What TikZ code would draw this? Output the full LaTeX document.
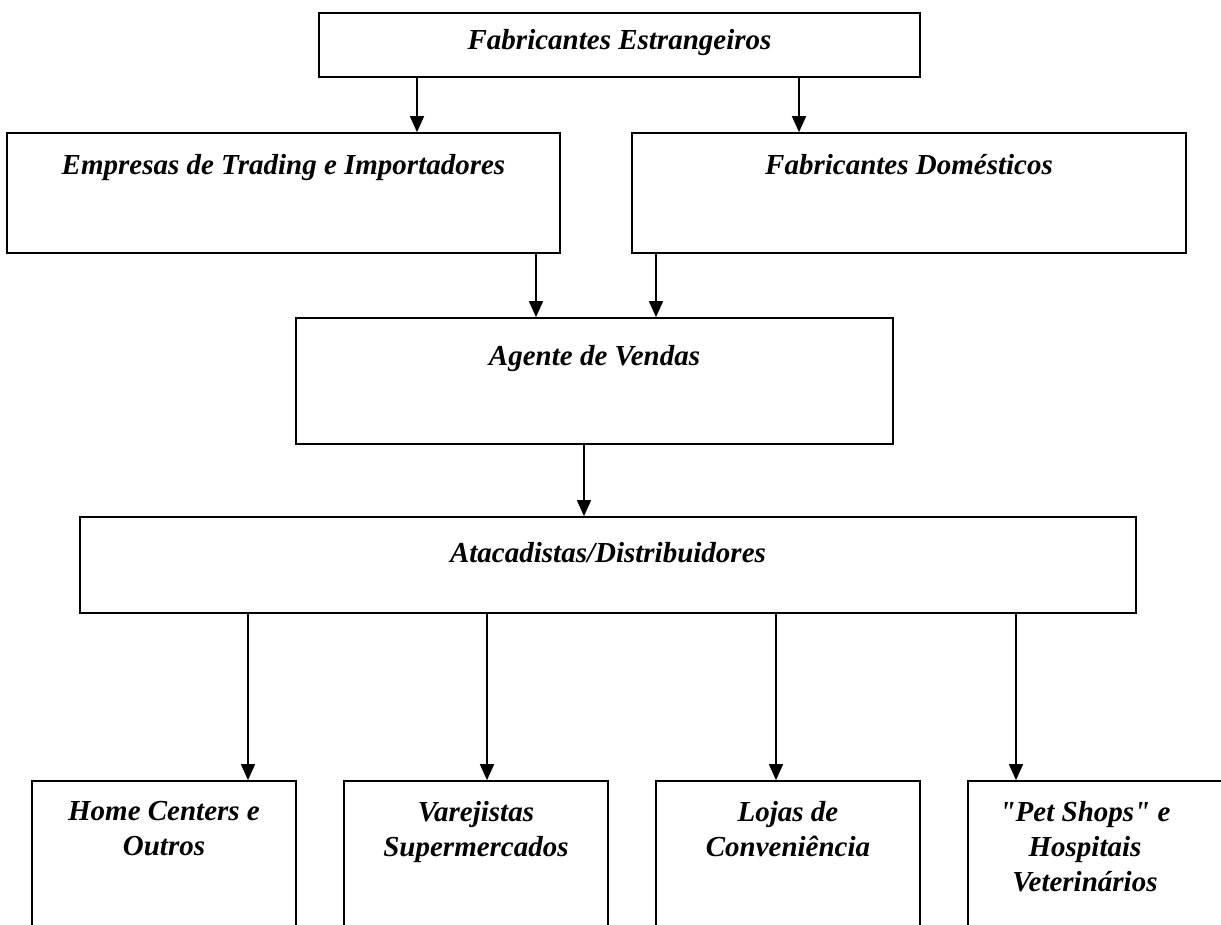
\documentclass[tikz,border=0pt]{standalone}
\usepackage{fontspec}
\setmainfont{Liberation Serif}
\usetikzlibrary{arrows.meta}
\tikzset{
  box/.style={draw, line width=0.85pt, rectangle, inner sep=0pt},
  lbl/.style={font=\fontsize{14.5}{17.5}\selectfont\bfseries\itshape, align=center, inner sep=0pt, anchor=north},
  arr/.style={line width=0.8pt, -{Triangle[length=8pt,width=7pt]}}
}
\begin{document}
\begin{tikzpicture}[x=0.5pt,y=-0.5pt]
\useasboundingbox (0,0) rectangle (1221,925);
\clip (0,0) rectangle (1221,925);
% boxes
\node[box, minimum width=300.5pt, minimum height=32pt] (fe) at (619.5,45) {};
\node[box, minimum width=276.5pt, minimum height=60pt] (emp) at (283.5,193) {};
\node[box, minimum width=277pt, minimum height=60pt] (fd) at (909,193) {};
\node[box, minimum width=298.5pt, minimum height=63pt] (ag) at (594.5,381) {};
\node[box, minimum width=528pt, minimum height=48pt] (at) at (608,565) {};
\node[box, minimum width=132pt, minimum height=84.5pt] (home) at (164,865.5) {};
\node[box, minimum width=132pt, minimum height=84.5pt] (var) at (476,865.5) {};
\node[box, minimum width=132pt, minimum height=84.5pt] (loj) at (788,865.5) {};
\node[box, minimum width=141pt, minimum height=84.5pt] (pet) at (1109,865.5) {};
% texts
\node[lbl] (tfe) at ([yshift=-8.5pt]fe.north) {Fabricantes Estrangeiros};
\node[lbl] (temp) at ([yshift=-11pt]emp.north) {Empresas de Trading e Importadores};
\node[lbl] (tfd) at ([yshift=-11pt]fd.north) {Fabricantes Domésticos};
\node[lbl] (tag) at ([yshift=-14pt]ag.north) {Agente de Vendas};
\node[lbl] (tat) at ([yshift=-13pt]at.north) {Atacadistas/Distribuidores};
\node[lbl] (thome) at ([yshift=-10.5pt]home.north) {Home Centers e\\Outros};
\node[lbl] (tvar) at ([yshift=-10.5pt]var.north) {Varejistas\\Supermercados};
\node[lbl] (tloj) at ([yshift=-10.5pt]loj.north) {Lojas de\\Conveniência};
\node[lbl] (tpet) at ([xshift=-12pt,yshift=-10.5pt]pet.north) {\textquotedbl Pet Shops\textquotedbl{} e\\Hospitais\\Veterinários};
% connectors
\draw[arr] (417,0 |- fe.south) -- (417,0 |- emp.north);
\draw[arr] (799,0 |- fe.south) -- (799,0 |- fd.north);
\draw[arr] (536,0 |- emp.south) -- (536,0 |- ag.north);
\draw[arr] (656,0 |- fd.south) -- (656,0 |- ag.north);
\draw[arr] (584,0 |- ag.south) -- (584,0 |- at.north);
\draw[arr] (248,0 |- at.south) -- (248,0 |- home.north);
\draw[arr] (487,0 |- at.south) -- (487,0 |- var.north);
\draw[arr] (776,0 |- at.south) -- (776,0 |- loj.north);
\draw[arr] (1016,0 |- at.south) -- (1016,0 |- pet.north);
\end{tikzpicture}
\end{document}
